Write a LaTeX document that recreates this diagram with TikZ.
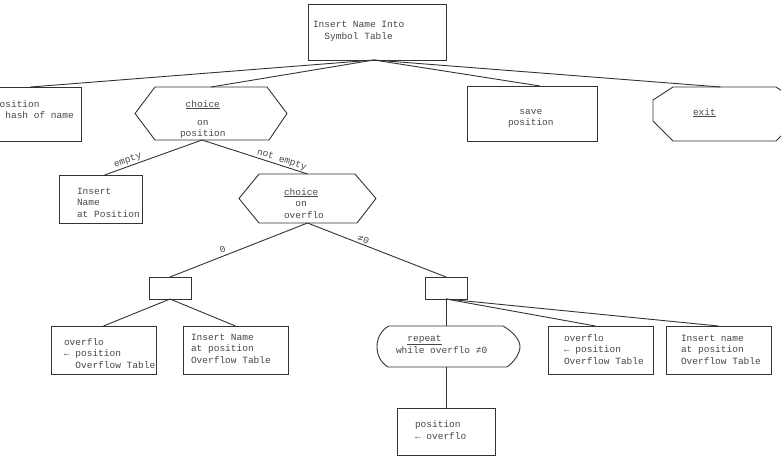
\documentclass[tikz,border=0pt]{standalone}
\usepackage{fontspec}
\setmonofont{Liberation Mono}
\usetikzlibrary{calc}
\definecolor{ink}{gray}{0.2}
\definecolor{typed}{gray}{0.28}
% left-aligned block of typed lines, first baseline at the node's base
\newcommand\txtlines[1]{\begin{tabular}[t]{@{}l@{}}#1\end{tabular}}
\tikzset{
  typedfont/.style={font=\ttfamily\fontsize{9.5}{11.5}\selectfont},
  frame/.style={rectangle, inner sep=0pt, outer sep=0pt},
  boxframe/.style={frame, draw=ink, line width=0.9pt},
  outline/.style={draw=ink, line width=0.9pt, line join=round},
  wire/.style={draw=ink, line width=0.9pt},
  txt/.style={typedfont, inner sep=0pt, outer sep=0pt, anchor=base west, text=typed},
  edgetxt/.style={typedfont, sloped, above, inner sep=1.5pt, text=typed}
}
\begin{document}
\begin{tikzpicture}[x=1pt,y=-1pt]
\useasboundingbox (0,0) rectangle (781,467);
\clip (0,0) rectangle (781,467);

% ---- rectangular boxes
\node[boxframe, minimum width=138pt, minimum height=56pt] (top)  at (377,32)    {};
\node[boxframe, minimum width=101pt, minimum height=54pt] (hash) at (30.5,114)  {};
\node[boxframe, minimum width=130pt, minimum height=55pt] (save) at (532,113.5) {};
\node[boxframe, minimum width=83pt,  minimum height=48pt] (ins)  at (100.5,199) {};
\node[boxframe, minimum width=42pt,  minimum height=22pt] (sml)  at (170,288)   {};
\node[boxframe, minimum width=42pt,  minimum height=22pt] (smr)  at (446,288)   {};
\node[boxframe, minimum width=105pt, minimum height=48pt] (ova)  at (103.5,350) {};
\node[boxframe, minimum width=105pt, minimum height=48pt] (insa) at (235.5,350) {};
\node[boxframe, minimum width=105pt, minimum height=48pt] (ovb)  at (600.5,350) {};
\node[boxframe, minimum width=105pt, minimum height=48pt] (insb) at (718.5,350) {};
\node[boxframe, minimum width=98pt,  minimum height=47pt] (pos)  at (446,431.5) {};

% ---- choice hexagons
\node[frame, minimum width=152pt, minimum height=53pt] (cha) at (211,113.5) {};
\draw[outline] ([xshift=20pt]cha.north west) -- ([xshift=-20pt]cha.north east)
  -- (cha.east) -- ([xshift=-18pt]cha.south east) -- ([xshift=20pt]cha.south west)
  -- (cha.west) -- cycle;
\node[frame, minimum width=137pt, minimum height=49pt] (chb) at (307.5,198.5) {};
\draw[outline] ([xshift=20pt]chb.north west) -- ([xshift=-21pt]chb.north east)
  -- (chb.east) -- ([xshift=-19pt]chb.south east) -- ([xshift=20pt]chb.south west)
  -- (chb.west) -- cycle;

% ---- exit octagon
\node[frame, minimum width=143pt, minimum height=54pt] (ex) at (724.5,114) {};
\draw[outline] ([shift={(20,0)}]ex.north west) -- ([shift={(-20,0)}]ex.north east)
  -- ([shift={(0,13)}]ex.north east) -- ([shift={(0,-20)}]ex.south east)
  -- ([shift={(-20,0)}]ex.south east) -- ([shift={(20,0)}]ex.south west)
  -- ([shift={(0,-20)}]ex.south west) -- ([shift={(0,13)}]ex.north west) -- cycle;

% ---- repeat loop shape
\node[frame, minimum width=143pt, minimum height=41pt] (rp) at (448.5,346.5) {};
\draw[outline] ([shift={(12,0)}]rp.north west) -- ([shift={(-17,0)}]rp.north east)
  .. controls ([shift={(-8,5)}]rp.north east) and ([shift={(0,-7)}]rp.east) .. (rp.east)
  .. controls ([shift={(0,7)}]rp.east) and ([shift={(-6,-5)}]rp.south east) .. ([shift={(-13,0)}]rp.south east)
  -- ([shift={(11,0)}]rp.south west)
  .. controls ([shift={(3,-5)}]rp.south west) and ([shift={(0,8)}]rp.west) .. (rp.west)
  .. controls ([shift={(0,-8)}]rp.west) and ([shift={(4,4)}]rp.north west) .. cycle;

% ---- texts
\node[txt] (ttop)  at (313,27.5) {\txtlines{Insert Name Into\\\hphantom{xx}Symbol Table}};
\node[txt] (thash) at (-6,107)   {\txtlines{position\\← hash of name}};
\node[txt] (tcha)  at (180,107)  {\txtlines{\hphantom{x}\underline{choice}\\[6.5pt]\hphantom{xxx}on\\position}};
\node[txt] (tsave) at (508,114)  {\txtlines{\hphantom{xx}save\\position}};
\node[txt] (tex)   at (693,115)  {\underline{exit}};
\node[txt] (tins)  at (77,194)   {\txtlines{Insert\\Name\\at Position}};
\node[txt] (tchb)  at (284,195)  {\txtlines{\underline{choice}\\\hphantom{xx}on\\overflo}};
\node[txt] (tova)  at (64,345)   {\txtlines{overflo\\← position\\\hphantom{xx}Overflow Table}};
\node[txt] (tinsa) at (191,340)  {\txtlines{Insert Name\\at position\\Overflow Table}};
\node[txt] (trp)   at (396,341)  {\txtlines{\hphantom{xx}\underline{repeat}\\while overflo ≠0}};
\node[txt] (tovb)  at (564,341)  {\txtlines{overflo\\← position\\Overflow Table}};
\node[txt] (tinsb) at (681,341)  {\txtlines{Insert name\\at position\\Overflow Table}};
\node[txt] (tpos)  at (415,427.5){\txtlines{position\\← overflo}};

% ---- connectors
\draw[wire] ([xshift=-3pt]top.south) -- (hash.north);
\draw[wire] ([xshift=-3pt]top.south) -- (cha.north);
\draw[wire] ([xshift=-3pt]top.south) -- ([xshift=8pt]save.north);
\draw[wire] ([xshift=-3pt]top.south) -- ([xshift=-4pt]ex.north);

\draw[wire] ([xshift=-9pt]cha.south) -- node[edgetxt, pos=0.74] {empty} ([xshift=4pt]ins.north);
\draw[wire] ([xshift=-9pt]cha.south) -- node[edgetxt, pos=0.74, inner sep=0.8pt] {not empty} (chb.north);

\draw[wire] (chb.south) -- node[edgetxt, pos=0.6, inner sep=3pt] {0} (sml.north);
\draw[wire] (chb.south) -- node[edgetxt, pos=0.39, inner sep=1.5pt] {≠0} (smr.north);

\draw[wire] (sml.south) -- (ova.north);
\draw[wire] (sml.south) -- (insa.north);

\draw[wire] (smr.south) -- ([xshift=-2.5pt]rp.north);
\draw[wire] (smr.south) -- ([xshift=-5pt]ovb.north);
\draw[wire] (smr.south) -- (insb.north);
\draw[wire] ([xshift=-2.5pt]rp.south) -- (pos.north);
\end{tikzpicture}
\end{document}
